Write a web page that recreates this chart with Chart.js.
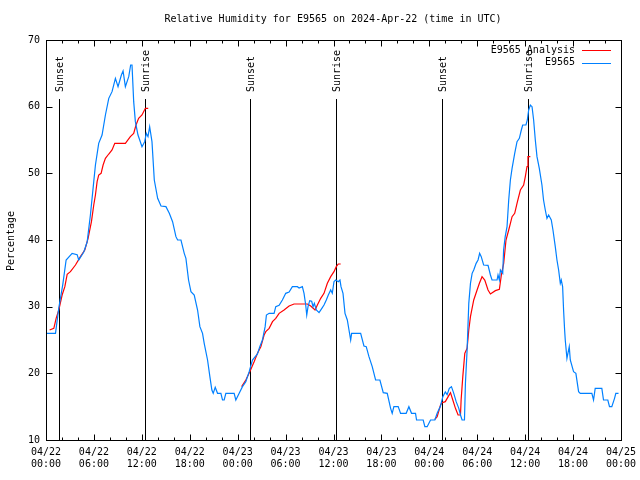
<!DOCTYPE html>
<html><head><meta charset="utf-8">
<script src="https://cdn.jsdelivr.net/npm/chart.js@4/dist/chart.umd.min.js"></script>
<style>html,body{margin:0;padding:0;background:#fff;}#wrap{width:640px;height:480px;}</style>
</head><body><div id="wrap"><canvas id="c" width="640" height="480"></canvas></div>
<script>
// hours since 2024-04-22 00:00 UTC
const obsHours = [0,1.19,1.6,2.1,2.52,3.27,3.9,4.1,4.73,5.15,5.56,5.98,6.19,6.6,7.02,7.44,7.86,8.27,8.69,9.02,
9.44,9.65,9.94,10.36,10.6,10.77,10.98,11.19,11.52,12.02,12.36,12.56,12.77,12.98,13.27,13.56,13.98,14.4,15.02,15.44,
15.85,16.27,16.48,16.9,17.31,17.52,17.85,18.15,18.56,18.98,19.27,19.6,19.81,20.23,20.52,20.77,20.94,21.19,21.48,21.9,
22.1,22.31,22.52,23.56,23.77,24.19,24.6,25.02,25.44,25.85,26.48,26.77,27.1,27.44,27.6,27.94,28.56,28.77,29.19,29.6,
30.02,30.44,30.85,31.48,31.69,32.1,32.31,32.52,32.65,32.81,33.02,33.27,33.44,33.6,33.85,34.19,34.52,34.81,35.1,35.35,
35.65,35.85,36.06,36.27,36.6,36.81,36.94,37.19,37.44,37.73,37.94,38.15,38.27,39.4,39.81,40.1,40.44,40.85,41.27,41.81,
42.23,42.73,43.15,43.35,43.56,44.1,44.4,45.1,45.44,45.77,46.27,46.4,47.23,47.44,47.73,48.15,48.69,48.98,49.4,49.69,
50.0,50.23,50.5,50.77,51.06,51.36,51.69,51.9,52.1,52.4,52.52,52.73,52.94,53.15,53.36,53.56,53.86,54.1,54.3,54.5,
54.8,55.35,55.65,55.85,56.48,56.6,56.77,56.9,57.19,57.3,57.5,57.73,57.94,58.15,58.36,58.69,58.98,59.27,59.52,59.69,
60.1,60.27,60.44,60.65,60.86,61.06,61.27,61.48,61.77,62.1,62.3,62.52,62.73,62.94,63.27,63.48,63.77,63.98,64.19,64.4,
64.52,64.69,64.81,64.94,65.02,65.23,65.52,65.65,66.06,66.35,66.69,66.9,68.35,68.56,68.77,69.6,69.81,70.35,70.56,70.85,
71.19,71.35,71.69];
const obsValues = [26,26,29.8,33.3,37,38,37.8,37,38.2,39.7,43.75,48.75,51.25,54.5,55.75,58.75,61.25,62.25,64.25,63,
64.75,65.35,63,64.5,66.25,66.25,60.75,57.75,55.75,54,54.75,56,55.5,57,54.75,49,46.25,45.1,45,44,
42.75,40.5,40,40,38,37.25,34,32.25,31.75,29.5,27,26,24.5,22,19.5,17.5,17,17.9,17,17,
16,16,17,17,16,17,18,18.75,20.25,22,22.9,24,25,27,28.75,29,29,30,30.2,31,
32,32.2,33,33,32.8,33,32,30.25,28.75,30,30.9,30.8,30,30.5,29.5,29.1,29.7,30.25,31,31.75,
32.5,32,33.75,34,33.75,34,33,32,29,28,26.5,25,26,26,24.1,24,22.5,21,19,19,
17.1,17,14.75,14,15,15,14,14,15,14,14,13,13,12,12,13,13,14,15.1,16.5,
17.2,16.8,17.75,18,17,15.75,14.75,13.75,13,13,18.5,23.5,30.5,33.5,35,35.5,36.5,37,38,37.5,
36.25,36.2,34.75,34,34,34.75,34,35.5,35,38.5,40.5,42,46,49,50.75,53,54.75,55.25,56.5,57.25,
57.25,58,59.5,60.25,60,58,55,52.5,50.75,48.25,46,44.5,43.25,43.75,43,41.5,39,37,35.5,33.5,
34,33,29.5,26.5,25,22.25,24,22,20.25,20,17.25,17,17,16,17.75,17.75,16,16,15,15,
16.25,17,17];
const anaHours = [0.45,0.98,1.27,1.6,2.02,2.36,2.65,3.06,3.69,4.31,4.86,5.27,5.69,5.98,6.19,6.4,6.6,6.9,7.15,7.44,
7.86,8.27,8.61,9.94,10.56,10.98,11.27,11.6,12.02,12.44,12.8,
18,
24.5,25.02,25.52,26.06,26.48,26.9,27.31,27.52,27.94,28.36,28.77,29.19,29.81,30.44,31.06,32.73,33.15,33.69,33.98,34.4,
34.81,35.23,35.65,36.06,36.35,36.6,36.9,
42,
48.69,48.98,49.4,49.6,50.0,50.36,50.65,50.94,51.27,51.6,51.9,51.98,52.19,52.44,52.73,52.94,53.15,53.56,53.98,54.27,
54.6,54.94,55.35,55.65,56.27,56.77,57.02,57.31,57.6,57.94,58.15,58.36,58.69,58.98,59.4,59.81,60.02,60.23,60.35,60.65];
const anaValues = [26.5,26.75,28.25,29.5,31.75,33,34.85,35.25,36.25,37.5,38.5,40.25,42.75,45.25,46.75,48.75,49.75,50,51.25,52.25,
52.9,53.5,54.5,54.5,55.5,56,57.25,58.25,58.75,59.75,59.75,
null,
18,19,20.25,21.75,23,24,25.75,26.25,26.75,27.75,28.25,29,29.5,30.1,30.4,30.4,30.1,29.5,30.25,31.25,
32,33.5,34.5,35.25,36,36.4,36.4,
null,
13.1,13.5,15.25,15.6,15.75,16.5,17.1,16,14.75,13.75,13.75,16,19.5,23,23.75,26.5,28.5,31,32.5,33.5,
34.5,34,32.5,31.9,32.4,32.6,34.75,36.5,40,41.5,42.5,43.5,44,45.5,47.5,48.25,49.5,51,52.5,52.5];
const sunEventHours = [1.6, 12.45, 25.6, 36.35, 49.6, 60.35];
const sunEventLabels = ['Sunset','Sunrise','Sunset','Sunrise','Sunset','Sunrise'];
const xTickDates = ['04/22','04/22','04/22','04/22','04/23','04/23','04/23','04/23','04/24','04/24','04/24','04/24','04/25'];
const xTickTimes = ['00:00','06:00','12:00','18:00','00:00','06:00','12:00','18:00','00:00','06:00','12:00','18:00','00:00'];
const yTickValues = [10,20,30,40,50,60,70];
const seriesNames = ['E9565 Analysis','E9565'];
const seriesColors = ['#ff0000','#0080ff'];
const titleText = 'Relative Humidity for E9565 on 2024-Apr-22 (time in UTC)';
const yAxisTitle = 'Percentage';

const FONT = '10px "DejaVu Sans Mono", "Liberation Mono", monospace';

function pts(hs, vs){ return hs.map((h,i)=>({x:h, y:vs[i]})); }

const decor = {
  id:'decor',
  beforeDatasetsDraw(chart){
    const {ctx, chartArea:a, scales:{x,y}} = chart;
    ctx.save();
    ctx.strokeStyle='#000'; ctx.lineWidth=1;
    ctx.font=FONT; ctx.fillStyle='#000';
    sunEventHours.forEach((h,i)=>{
      const px = Math.round(x.getPixelForValue(h))+0.5;
      ctx.beginPath(); ctx.moveTo(px, 99); ctx.lineTo(px, a.bottom); ctx.stroke();
      ctx.save(); ctx.translate(px, 92); ctx.rotate(-Math.PI/2);
      ctx.textAlign='left'; ctx.textBaseline='middle';
      ctx.fillText(sunEventLabels[i], 0, 0.5);
      ctx.restore();
    });
    ctx.restore();
  },
  afterDraw(chart){
    const {ctx, chartArea:a, scales:{x,y}} = chart;
    ctx.save();
    ctx.strokeStyle='#000'; ctx.lineWidth=1;
    const L=Math.round(a.left)+0.5, R=Math.round(a.right)+0.5, T=Math.round(a.top)+0.5, B=Math.round(a.bottom)+0.5;
    ctx.strokeRect(L, T, R-L, B-T);
    ctx.beginPath();
    for(let h=0; h<=72; h+=2){
      const px=Math.round(x.getPixelForValue(h))+0.5;
      const len = (h%6===0)?6:3;
      ctx.moveTo(px,B); ctx.lineTo(px,B-len);
      ctx.moveTo(px,T); ctx.lineTo(px,T+len);
    }
    yTickValues.forEach(v=>{
      const py=Math.round(y.getPixelForValue(v))+0.5;
      ctx.moveTo(L,py); ctx.lineTo(L+6,py);
      ctx.moveTo(R,py); ctx.lineTo(R-6,py);
    });
    ctx.stroke();
    ctx.font=FONT; ctx.fillStyle='#000';
    ctx.textAlign='center'; ctx.textBaseline='middle';
    ctx.fillText(titleText, 333, 19);
    ctx.save(); ctx.translate(11, 241); ctx.rotate(-Math.PI/2);
    ctx.fillText(yAxisTitle, 0, 0); ctx.restore();
    // legend
    ctx.textAlign='right';
    seriesNames.forEach((n,i)=>{
      const ly = 50 + i*12.5;
      ctx.fillStyle='#000';
      ctx.fillText(n, 575, ly);
      ctx.strokeStyle=seriesColors[i]; ctx.lineWidth=1;
      ctx.beginPath(); ctx.moveTo(582, Math.round(ly)+0.5); ctx.lineTo(611, Math.round(ly)+0.5); ctx.stroke();
    });
    ctx.restore();
  }
};

new Chart(document.getElementById('c'), {
  type:'line',
  data:{datasets:[
    {label:seriesNames[0], data:pts(anaHours, anaValues), borderColor:seriesColors[0], borderWidth:1.2, pointRadius:0, tension:0, spanGaps:false, order:1},
    {label:seriesNames[1], data:pts(obsHours, obsValues), borderColor:seriesColors[1], borderWidth:1.2, pointRadius:0, tension:0, spanGaps:false, order:0}
  ]},
  options:{
    responsive:false, animation:false, devicePixelRatio:1,
    layout:{padding:{top:40, right:19, bottom:0, left:0}},
    plugins:{legend:{display:false}, title:{display:false}, tooltip:{enabled:false}},
    scales:{
      x:{type:'linear', min:0, max:72,
        grid:{display:false, drawTicks:false}, border:{display:false},
        ticks:{stepSize:6, autoSkip:false, maxRotation:0, padding:6, color:'#000',
          font:{family:'"DejaVu Sans Mono", "Liberation Mono", monospace', size:10, lineHeight:1.25},
          callback:(v)=>{const i=Math.round(v/6); return [xTickDates[i], xTickTimes[i]];}},
        afterFit:(s)=>{s.height=40; s.paddingLeft=0; s.paddingRight=0;}
      },
      y:{min:10, max:70,
        grid:{display:false, drawTicks:false}, border:{display:false},
        ticks:{stepSize:10, padding:6, color:'#000',
          font:{family:'"DejaVu Sans Mono", "Liberation Mono", monospace', size:10}},
        afterFit:(s)=>{s.width=46; s.paddingTop=0; s.paddingBottom=0;}
      }
    }
  },
  plugins:[decor]
});
</script></body></html>
